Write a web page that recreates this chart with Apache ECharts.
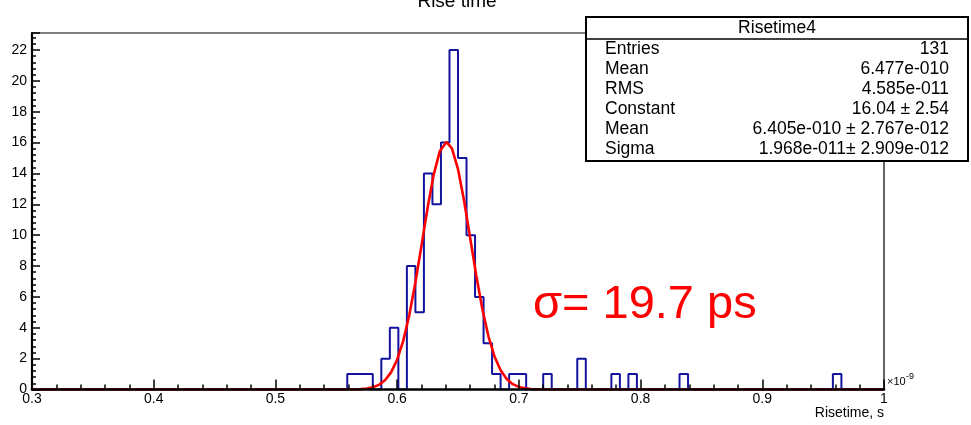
<!DOCTYPE html>
<html>
<head>
<meta charset="utf-8">
<script src="https://cdn.jsdelivr.net/npm/echarts@6/dist/echarts.min.js"></script>
<style>
html,body{margin:0;padding:0;background:#fff;}
#chart{width:971px;height:425px;}
</style>
</head>
<body>
<div id="chart"></div>
<script>
// ---- data ----
const histLow = 0.3;
const binWidth = 0.007;
const counts = [
  0,0,0,0,0,0,0,0,0,0,
  0,0,0,0,0,0,0,0,0,0,
  0,0,0,0,0,0,0,0,0,0,
  0,0,0,0,0,0,0,1,1,1,
  0,2,4,0,8,5,14,12,16,22,
  15,10,6,3,1,0,1,1,0,0,
  1,0,0,0,2,0,0,0,1,0,
  1,0,0,0,0,0,1,0,0,0,
  0,0,0,0,0,0,0,0,0,0,
  0,0,0,0,1,0,0,0,0,0
];
const fitX = [0.3, 0.55, 0.56, 0.565, 0.57, 0.575, 0.58, 0.585, 0.59, 0.595, 0.6, 0.605, 0.61, 0.615, 0.62, 0.625, 0.63, 0.635, 0.6405, 0.645, 0.65, 0.655, 0.66, 0.665, 0.67, 0.675, 0.68, 0.685, 0.69, 0.695, 0.7, 0.705, 0.71, 0.715, 0.72, 0.73, 1.0];
const fitY = [0, 0, 0.004, 0.01, 0.026, 0.063, 0.142, 0.301, 0.596, 1.107, 1.93, 3.152, 4.827, 6.928, 9.322, 11.76, 13.91, 15.43, 16.04, 15.63, 14.28, 12.23, 9.818, 7.389, 5.213, 3.449, 2.141, 1.245, 0.679, 0.347, 0.166, 0.075, 0.031, 0.012, 0.005, 0, 0];
const xTickLabels = ['0.3','0.4','0.5','0.6','0.7','0.8','0.9','1'];
const chartTitle = 'Rise time';
const statTitle = 'Risetime4';
const statNames = ['Entries','Mean','RMS','Constant','Mean','Sigma'];
const statValues = ['131','6.477e-010','4.585e-011','16.04 \u00b1 2.54','6.405e-010 \u00b1 2.767e-012','1.968e-011\u00b1 2.909e-012'];
const sigmaText = '\u03c3= 19.7 ps';
const xAxisTitle = 'Risetime, s';

// ---- build ----
const histData = counts.map((c, k) => [histLow + k * binWidth, c]);
histData.push([histLow + counts.length * binWidth, 0]);
const fitData = fitX.map((x, i) => [x, fitY[i]]);

const FONT = '"Liberation Sans", Arial, sans-serif';
const SF = '17.5px ' + FONT;

const chart = echarts.init(document.getElementById('chart'), null, {renderer: 'canvas'});

function txt(x, y, text, font, align, fill, z) {
  return {type: 'text', x: x, y: y, z: z || 50,
    style: {text: text, font: font, fill: fill || '#000', align: align, verticalAlign: 'middle', textAlign: align, textVerticalAlign: 'middle'}};
}

const statGraphics = [
  {type: 'rect', shape: {x: 586, y: 17, width: 382, height: 144},
   style: {fill: '#fff', stroke: '#000', lineWidth: 2}, z: 100},
  {type: 'line', shape: {x1: 586, y1: 39, x2: 968, y2: 39},
   style: {stroke: '#000', lineWidth: 1.5}, z: 101},
  txt(777, 28, statTitle, SF, 'center', '#000', 101)
];
statNames.forEach((n, i) => {
  const y = 49 + i * 20;
  statGraphics.push(txt(605, y, n, SF, 'left', '#000', 101));
  statGraphics.push(txt(949, y, statValues[i], SF, 'right', '#000', 101));
});

const option = {
  backgroundColor: '#fff',
  animation: false,
  grid: {left: 32, right: 87, top: 33, bottom: 35.5, show: true, borderColor: '#000', borderWidth: 1.2, containLabel: false},
  xAxis: {
    type: 'value', min: 0.3, max: 1.0, interval: 0.1, zlevel: 1, z: 10,
    axisLine: {show: true, onZero: false, lineStyle: {color: '#000', width: 2.6}},
    axisTick: {show: true, inside: true, length: 10, lineStyle: {color: '#000', width: 1.5}},
    minorTick: {show: true, splitNumber: 5, length: 5, lineStyle: {color: '#000', width: 1.5}},
    splitLine: {show: false},
    axisLabel: {
      margin: 3, color: '#000', fontSize: 14, fontFamily: FONT,
      formatter: v => xTickLabels[Math.round((v - 0.3) * 10)] || ''
    }
  },
  yAxis: {
    type: 'value', min: 0, max: 23.1, interval: 2, zlevel: 1, z: 10,
    axisLine: {show: true, lineStyle: {color: '#000', width: 2.2}},
    axisTick: {show: true, inside: true, length: 8, lineStyle: {color: '#000', width: 1.5}},
    minorTick: {show: true, splitNumber: 5, length: 4, lineStyle: {color: '#000', width: 1.5}},
    splitLine: {show: false},
    axisLabel: {
      margin: 5, color: '#000', fontSize: 14, fontFamily: FONT,
      formatter: v => (Math.abs(v - Math.round(v)) < 1e-6 && Math.round(v) % 2 === 0) ? String(Math.round(v)) : ''
    }
  },
  series: [
    {type: 'line', data: histData, step: 'end', showSymbol: false, symbol: 'none',
     lineStyle: {color: '#13139e', width: 2}, z: 2, clip: true},
    {type: 'line', data: fitData, showSymbol: false, symbol: 'none', smooth: false,
     lineStyle: {color: '#ff0000', width: 2.6}, z: 3, clip: true}
  ],
  graphic: [
    txt(457, 2, chartTitle, '19px ' + FONT, 'center'),
    txt(533, 305, sigmaText, '47px ' + FONT, 'left', '#ff0000'),
    txt(887, 382, '\u00d710', '11px ' + FONT, 'left'),
    txt(906, 377, '-9', '9px ' + FONT, 'left'),
    txt(884, 413, xAxisTitle, '14px ' + FONT, 'right')
  ].concat(statGraphics)
};
chart.setOption(option);
</script>
</body>
</html>
